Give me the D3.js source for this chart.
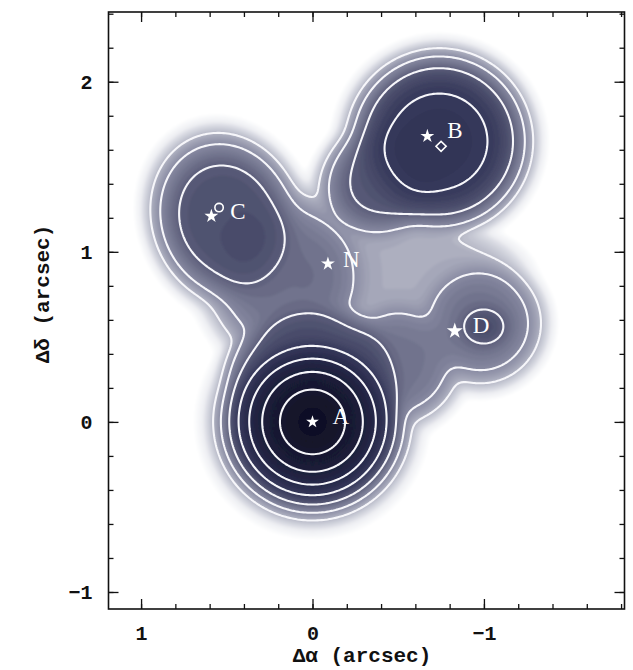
<!DOCTYPE html>
<html>
<head>
<meta charset="utf-8">
<script src="https://cdn.jsdelivr.net/npm/d3@7"></script>
<style>
    body { margin: 0; background: #fff; }
    .axis text { font-family: "Liberation Mono", "DejaVu Sans Mono", monospace; font-weight: bold; font-size: 20px; fill: #111; }
    .axis line { stroke: #111; stroke-width: 1.3; }
    .title { font-family: "Liberation Mono", "DejaVu Sans Mono", monospace; font-weight: bold; font-size: 21px; fill: #111; }
    .src-label { font-family: "Liberation Serif", "DejaVu Serif", serif; font-size: 23px; fill: #fff; }
</style>
</head>
<body>
<div id="chart"></div>
<script>

// ---- data (offsets in arcsec) ----

// point sources
const sourceNames = ["A", "B", "C", "D", "N"];
const sourceRA    = [0.00, -0.67, 0.59, -0.83, -0.09];
const sourceDec   = [0.00,  1.68, 1.21,  0.535, 0.93];

// small open markers next to B and C
const markerShape = ["diamond", "circle"];
const markerRA    = [-0.75, 0.545];
const markerDec   = [ 1.62, 1.26];

// emission model: one component per blob seen in the map
const compName  = ["A", "Aup", "B", "Bext", "C", "D", "Dhalo", "mid", "notch", "AD"];
const compRA    = [0.00, -0.02, -0.74, -0.45, 0.50, -1.00, -0.98, 0.15, -0.50, -0.50];
const compDec   = [0.00,  0.25,  1.65,  1.45, 1.19,  0.56,  0.58, 0.85,  0.88,  0.35];
const compAmp   = [1.00,  0.17,  0.242, 0.16, 0.17, 0.165, 0.125, 0.13, 0.072, 0.125];
const compSa    = [0.248, 0.48,  0.43,  0.38, 0.44, 0.15,  0.33, 0.42, 0.70, 0.33];
const compSb    = [0.248, 0.42,  0.43,  0.30, 0.37, 0.13,  0.33, 0.45, 0.30, 0.33];
const compAngle = [0, 0, 0, -35, 70, 0, 0, 0, 0, 0];
const compPower = [2, 6, 4, 4, 4, 2, 4, 4, 6, 4];

// contour levels drawn in white
const contourLevels = [0.065, 0.098, 0.147, 0.221, 0.331, 0.497, 0.746];

// axes
const xMajor = [1, 0, -1];
const xMinor = [1.0, 0.8, 0.6, 0.4, 0.2, 0.0, -0.2, -0.4, -0.6, -0.8, -1.0, -1.2, -1.4, -1.6, -1.8];
const yMajor = [-1, 0, 1, 2];
const yMinor = [-1.0, -0.8, -0.6, -0.4, -0.2, 0.0, 0.2, 0.4, 0.6, 0.8, 1.0, 1.2, 1.4, 1.6, 1.8, 2.0, 2.2, 2.4];

// ---- layout ----
const width = 633, height = 670;
const margin = {top: 12, right: 8.5, bottom: 61, left: 108.5};
const plotW = width - margin.left - margin.right;
const plotH = height - margin.top - margin.bottom;

const x = d3.scaleLinear().domain([1.19, -1.82]).range([margin.left, margin.left + plotW]);
const y = d3.scaleLinear().domain([-1.1, 2.41]).range([margin.top + plotH, margin.top]);

const svg = d3.select("#chart").append("svg")
    .attr("width", width)
    .attr("height", height);

const defs = svg.append("defs");
defs.append("clipPath").attr("id", "plot-clip")
    .append("rect")
    .attr("x", margin.left).attr("y", margin.top)
    .attr("width", plotW).attr("height", plotH);
defs.append("filter").attr("id", "soft")
    .attr("x", "-5%").attr("y", "-5%").attr("width", "110%").attr("height", "110%")
    .append("feGaussianBlur").attr("stdDeviation", 1.3);

// ---- density grid ----
const step = 2;
const nx = Math.ceil(plotW / step), ny = Math.ceil(plotH / step);
const blend = 4;   // soft-max exponent between blobs

const comps = compName.map((d, i) => ({
    x: compRA[i], y: compDec[i], a: compAmp[i],
    sa: compSa[i], sb: compSb[i],
    c: Math.cos(compAngle[i] * Math.PI / 180), s: Math.sin(compAngle[i] * Math.PI / 180),
    k: compPower[i]
}));

const values = new Float64Array(nx * ny);
for (let j = 0; j < ny; j++) {
    const dec = y.invert(margin.top + (j + 0.5) * step);
    for (let i = 0; i < nx; i++) {
        const ra = x.invert(margin.left + (i + 0.5) * step);
        let sum = 0;
        comps.forEach(p => {
            const dx = ra - p.x, dy = dec - p.y;
            const u = (dx * p.c + dy * p.s) / p.sa;
            const v = (-dx * p.s + dy * p.c) / p.sb;
            const g = p.a * Math.exp(-0.5 * Math.pow(u * u + v * v, p.k / 2));
            sum += Math.pow(g, blend);
        });
        values[j * nx + i] = Math.pow(sum, 1 / blend);
    }
}

// grey-blue colour ramp on a log scale
const vMin = 0.02, vMax = 1.0;
const tOf = v => Math.max(0, Math.min(1, Math.log(v / vMin) / Math.log(vMax / vMin)));
const color = d3.scaleLinear()
    .domain([0, 0.15, 0.27, 0.33, 0.40, 0.47, 0.53, 0.60, 0.68, 0.78, 0.90, 1.0])
    .range(["#ffffff", "#eeeff3", "#c4c6d2", "#a8aabb", "#8c8ea5", "#72748e",
            "#535572", "#3a3c5e", "#2c2e50", "#212341", "#181932", "#111126"])
    .interpolate(d3.interpolateRgb)
    .clamp(true);

const fillLevels = d3.range(70).map(i => 0.01 * Math.pow(0.95 / 0.01, i / 69));

const path = d3.geoPath(d3.geoIdentity().scale(step).translate([margin.left, margin.top]));

const plot = svg.append("g").attr("clip-path", "url(#plot-clip)");

plot.append("g")
    .attr("filter", "url(#soft)")
    .selectAll("path")
    .data(d3.contours().size([nx, ny]).thresholds(fillLevels)(values))
    .join("path")
    .attr("d", path)
    .attr("fill", d => color(tOf(d.value * 1.03)))
    .attr("stroke", d => color(tOf(d.value * 1.03)))
    .attr("stroke-width", 0.6);

plot.append("g")
    .selectAll("path")
    .data(d3.contours().size([nx, ny]).thresholds(contourLevels)(values))
    .join("path")
    .attr("d", path)
    .attr("fill", "none")
    .attr("stroke", "#f6f6fa")
    .attr("stroke-width", 2.1)
    .attr("stroke-linejoin", "round");

// ---- sources ----
const labelOffset = {A: [20, 2], B: [20, 2], C: [19, 3], D: [18, 2], N: [15, 3]};
const starSize = {A: 50, B: 60, C: 60, D: 80, N: 60};

const src = plot.append("g");
sourceNames.forEach((name, i) => {
    const sx = x(sourceRA[i]), sy = y(sourceDec[i]);
    src.append("path")
        .attr("d", d3.symbol(d3.symbolStar, starSize[name])())
        .attr("transform", `translate(${sx},${sy})`)
        .attr("fill", "#fff");
    src.append("text")
        .attr("class", "src-label")
        .attr("x", sx + labelOffset[name][0])
        .attr("y", sy + labelOffset[name][1])
        .text(name);
});

markerShape.forEach((shape, i) => {
    const mx = x(markerRA[i]), my = y(markerDec[i]);
    if (shape === "circle") {
        src.append("circle")
            .attr("cx", mx).attr("cy", my).attr("r", 4.2)
            .attr("fill", "none").attr("stroke", "#fff").attr("stroke-width", 1.6);
    } else {
        src.append("rect")
            .attr("x", -3.6).attr("y", -3.6).attr("width", 7.2).attr("height", 7.2)
            .attr("transform", `translate(${mx},${my}) rotate(45)`)
            .attr("fill", "none").attr("stroke", "#fff").attr("stroke-width", 1.6);
    }
});

// ---- axes: ticks point inwards on all four sides ----
const fmt = d3.format("d");

function addAxis(axis, tx, ty, values, size, labels, pad) {
    const g = svg.append("g")
        .attr("class", "axis")
        .attr("transform", `translate(${tx},${ty})`)
        .call(axis.tickValues(values).tickSize(-size).tickSizeOuter(0)
            .tickPadding(pad).tickFormat(labels ? fmt : ""));
    g.select(".domain").remove();
    g.attr("font-family", null).attr("font-size", null);
    return g;
}

const bottomY = margin.top + plotH, rightX = margin.left + plotW;
addAxis(d3.axisBottom(x), 0, bottomY, xMinor, 5, false, 0);
addAxis(d3.axisBottom(x), 0, bottomY, xMajor, 10, true, 17);
addAxis(d3.axisTop(x), 0, margin.top, xMinor, 5, false, 0);
addAxis(d3.axisTop(x), 0, margin.top, xMajor, 10, false, 0);
addAxis(d3.axisLeft(y), margin.left, 0, yMinor, 5, false, 0);
addAxis(d3.axisLeft(y), margin.left, 0, yMajor, 10, true, 16);
addAxis(d3.axisRight(y), rightX, 0, yMinor, 5, false, 0);
addAxis(d3.axisRight(y), rightX, 0, yMajor, 10, false, 0);

svg.append("rect")
    .attr("x", margin.left).attr("y", margin.top)
    .attr("width", plotW).attr("height", plotH)
    .attr("fill", "none").attr("stroke", "#111").attr("stroke-width", 1.6);

// axis titles
svg.append("text")
    .attr("class", "title")
    .attr("x", 362).attr("y", 662)
    .attr("text-anchor", "middle")
    .text("Δα (arcsec)");

svg.append("text")
    .attr("class", "title")
    .attr("transform", "translate(43,294) rotate(-90)")
    .attr("text-anchor", "middle")
    .attr("dominant-baseline", "central")
    .text("Δδ (arcsec)");

</script>
</body>
</html>
